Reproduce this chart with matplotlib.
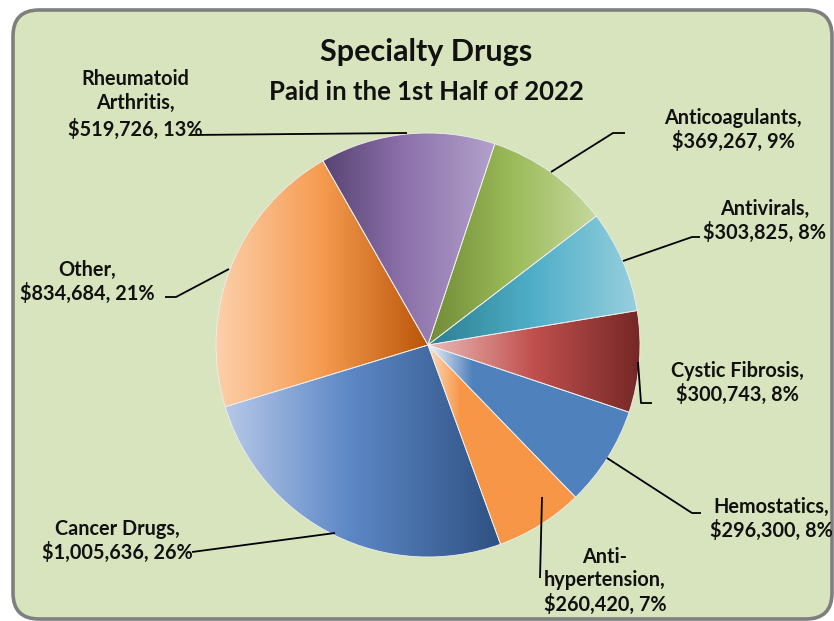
import numpy as np
import matplotlib
matplotlib.use("Agg")
import matplotlib.pyplot as plt
from matplotlib.patches import FancyBboxPatch
from matplotlib.colors import LinearSegmentedColormap

# data (clockwise, starting with Cancer Drugs)
categories = ["Cancer Drugs", "Other", "Rheumatoid\nArthritis", "Anticoagulants",
              "Antivirals", "Cystic Fibrosis", "Hemostatics", "Anti-\nhypertension"]
amounts = [1005636, 834684, 519726, 369267, 303825, 300743, 296300, 260420]
percents = [26, 21, 13, 9, 8, 8, 8, 7]

# gradient stops (left -> right) for every slice
gradients = [
    [(0.0, "#B6C8E8"), (0.45, "#5D88C6"), (1.0, "#2E5182")],
    [(0.0, "#FCD0AC"), (0.5, "#F59B50"), (1.0, "#BA5508")],
    [(0.0, "#584473"), (0.45, "#8A6FA8"), (1.0, "#B3A1CB")],
    [(0.0, "#718B36"), (0.5, "#9BBB59"), (1.0, "#C6D89E")],
    [(0.0, "#2C7E90"), (0.5, "#4FAFC8"), (1.0, "#97CFDE")],
    [(0.0, "#EBBBB9"), (0.5, "#C0504D"), (1.0, "#752826")],
    [(0.0, "#F2F5FB"), (0.22, "#4F81BD"), (1.0, "#4F81BD")],
    [(0.0, "#FDDCC0"), (0.22, "#F79646"), (1.0, "#F79646")],
]

W, H = 834, 621
plt.rcParams['font.family'] = ['Lato', 'DejaVu Sans']

fig = plt.figure(figsize=(W / 100, H / 100), dpi=100)
ax = fig.add_axes([0, 0, 1, 1])

# background panel
panel = FancyBboxPatch((13, H - 619), 819, 609, boxstyle="round,pad=0,rounding_size=26",
                       fc="#D7E4BD", ec="#7F7F7F", lw=2.6, zorder=0)
ax.add_patch(panel)

cx, cy, r = 428, H - 345, 212
wedges, _ = ax.pie(amounts, center=(cx, cy), radius=r, startangle=290,
                   counterclock=False, frame=True,
                   wedgeprops=dict(fc="none", ec="#EEEEEE", lw=0.6))

for w, stops in zip(wedges, gradients):
    w.set_zorder(3)
    bb = w.get_path().get_extents()
    cmap = LinearSegmentedColormap.from_list("g", stops)
    grad = np.linspace(0, 1, 256).reshape(1, -1)
    im = ax.imshow(grad, cmap=cmap, extent=[bb.x0, bb.x1, bb.y0, bb.y1],
                   aspect="auto", interpolation="bilinear", zorder=2)
    im.set_clip_path(w)

# labels: (x, y) in pixels from top-left
label_pos = [(117, 541), (87, 282), (135, 104), (733, 130),
             (765, 221), (737, 383), (771, 519), (605, 581)]
spacing = [1.17, 1.17, 1.3, 1.17, 1.17, 1.17, 1.17, 1.22]
for (lx, ly), ls, cat, amt, pct in zip(label_pos, spacing, categories, amounts, percents):
    txt = f"{cat},\n${amt:,}, {pct}%"
    ax.text(lx, H - ly, txt, ha="center", va="center", fontsize=14.3,
            fontweight="bold", linespacing=ls, color="#111111", zorder=5)

# leader lines
leaders = [
    [(192, 552), (335, 533)],
    [(165, 297), (176, 297), (229, 269)],
    [(190, 135), (407, 133)],
    [(625, 133), (613, 133), (551, 172)],
    [(700, 237), (692, 237), (623, 261)],
    [(638, 362), (641, 403), (652, 403)],
    [(607, 458), (692, 513), (701, 513)],
    [(542, 497), (540, 578)],
]
for pts in leaders:
    xs = [p[0] for p in pts]
    ys = [H - p[1] for p in pts]
    ax.plot(xs, ys, color="black", lw=1.3, zorder=4, solid_capstyle="butt")

ax.text(426, H - 52, "Specialty Drugs", ha="center", va="center",
        fontsize=22, fontweight="bold", color="#111111")
ax.text(426, H - 92, "Paid in the 1st Half of 2022", ha="center", va="center",
        fontsize=18.5, fontweight="bold", color="#111111")

ax.set_xlim(0, W)
ax.set_ylim(0, H)
ax.set_aspect("auto")
ax.axis("off")

fig.savefig("out.png", dpi=100, facecolor="white")
